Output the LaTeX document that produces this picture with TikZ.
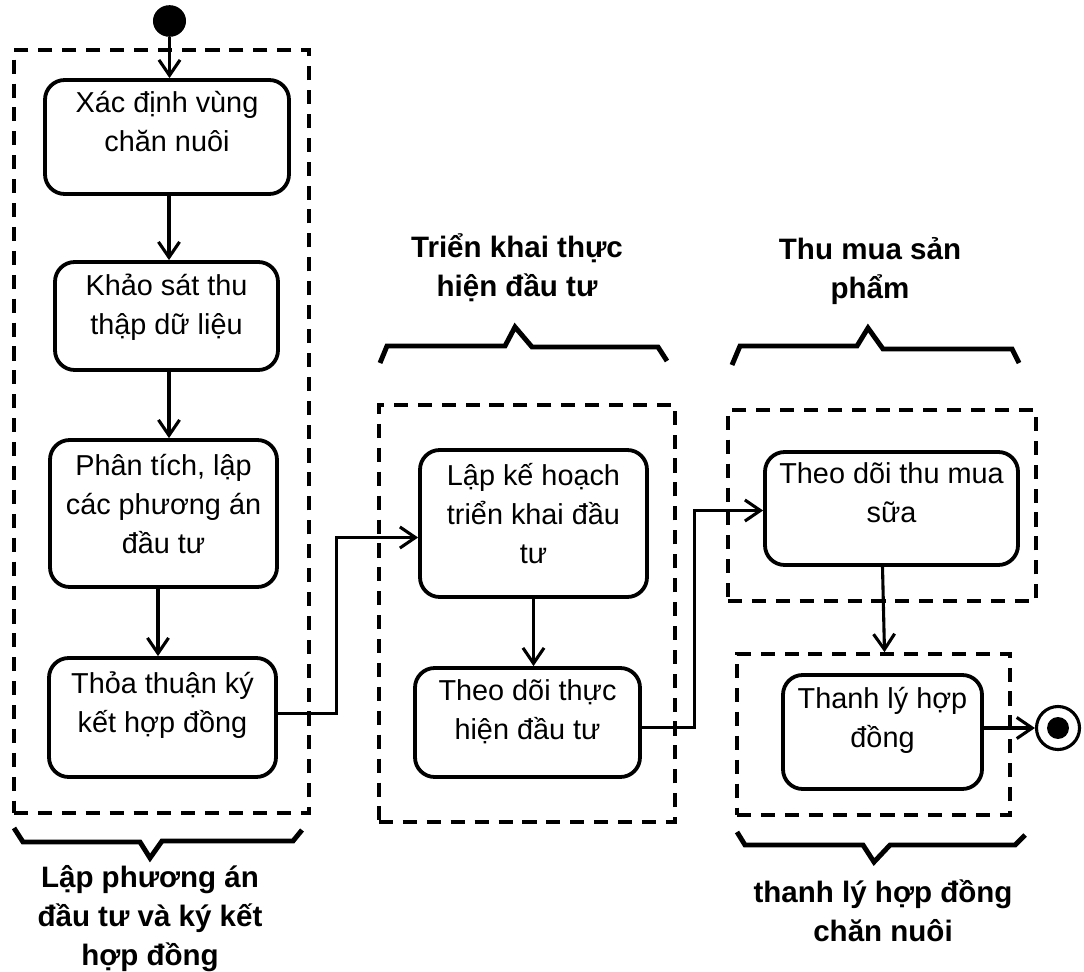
\documentclass[tikz,border=0pt]{standalone}
\usepackage{fontspec}
\setmainfont{Liberation Sans}
\usetikzlibrary{arrows.meta,fit,calc,shapes.geometric}

\begin{document}
\begin{tikzpicture}[x=0.025cm,y=-0.025cm,
  box/.style={draw, rounded corners=14pt, line width=2.7pt, inner sep=0pt},
  lane/.style={draw, dash pattern=on 10pt off 7pt, line width=2.6pt, inner sep=0pt},
  txt/.style={align=center, inner sep=0pt, anchor=north, font=\fontsize{20.5}{27.8}\selectfont},
  grp/.style={align=center, inner sep=0pt, anchor=north, font=\fontsize{21}{27.8}\selectfont\bfseries},
  link/.style={line width=2.2pt},
  flow/.style={link, -{Straight Barb[length=11pt,width=15pt]}},
  brace/.style={line width=3.5pt}
]
\useasboundingbox (0,0) rectangle (1084,972);

% swimlane groups
\node[lane, fit={(14,50) (309,813)}] (d1) {};
\node[lane, fit={(379,405) (675,822)}] (d2) {};
\node[lane, fit={(728,410) (1036,601)}] (d3) {};
\node[lane, fit={(737,654) (1010,815)}] (d4) {};

% activities
\node[box, fit={(45,80) (289,194)}] (b1) {};
\node[box, fit={(55,262) (278,370)}] (b2) {};
\node[box, fit={(50,440) (277,587)}] (b3) {};
\node[box, fit={(49,658) (276,777)}] (b4) {};
\node[box, fit={(420,450) (647,597)}] (b5) {};
\node[box, fit={(415,668) (640,777)}] (b6) {};
\node[box, fit={(765,452) (1018,565)}] (b7) {};
\node[box, fit={(783,675) (982,789)}] (b8) {};

\node[txt] (t1) at ($(b1.north)+(0,7)$) {\strut Xác định vùng\\chăn nuôi};
\node[txt] (t2) at ($(b2.north)+(0,8)$) {\strut Khảo sát thu\\thập dữ liệu};
\node[txt] (t3) at ($(b3.north)+(0,10)$) {\strut Phân tích, lập\\các phương án\\đầu tư};
\node[txt] (t4) at ($(b4.north)+(0,10)$) {\strut Thỏa thuận ký\\kết hợp đồng};
\node[txt] (t5) at ($(b5.north)+(0,10)$) {\strut Lập kế hoạch\\triển khai đầu\\tư};
\node[txt] (t6) at ($(b6.north)+(0,7)$) {\strut Theo dõi thực\\hiện đầu tư};
\node[txt] (t7) at ($(b7.north)+(0,6)$) {\strut Theo dõi thu mua\\sữa};
\node[txt] (t8) at ($(b8.north)+(0,8)$) {\strut Thanh lý hợp\\đồng};

% initial and final states
\node[ellipse, fill, inner sep=0pt, minimum width=23.5pt, minimum height=22.5pt] (start) at (169.5,21) {};
\node[circle, draw, line width=2.2pt, inner sep=0pt, minimum size=30.6pt] (fin) at (1058,728) {};
\node[circle, fill, inner sep=0pt, minimum size=15.6pt] (finDot) at (fin) {};

% guide columns for the vertical flows
\coordinate (axisA) at (169,0);
\coordinate (axisB) at (158,0);

% control flow
\draw[flow] (start) -- (start |- b1.north);
\draw[flow] (b1.south -| axisA) -- (b2.north -| axisA);
\draw[flow] (b2.south -| axisA) -- (b3.north -| axisA);
\draw[flow] (b3.south -| axisB) -- (b4.north -| axisB);
\draw[flow] ($(b4.east)+(0,-4)$) -- ++(59,0) |- ($(b5.west)+(0,14)$);
\draw[flow] (b5.south) -- (b5.south |- b6.north);
\draw[flow] ($(b6.east)+(0,5)$) -- ++(53,0) |- ($(b7.west)+(0,2)$);
\draw[flow] ($(b7.south)+(-9,0)$) -- ($(d4.north)+(11,0)$);
\draw[flow] (b8.east |- fin) -- (fin);

% group braces
\draw[brace] (14,828) -- (23,842) -- (140,842) -- (150,858) -- (162,841) -- (293,841) -- (302,830);
\draw[brace] (380,363) -- (387,346) -- (505,346) -- (515,327) -- (532,347) -- (658,347) -- (667,361);
\draw[brace] (732,365) -- (740,346) -- (857,346) -- (868,328) -- (883,349) -- (1012,349) -- (1019,363);
\draw[brace] (737,832) -- (745,845) -- (863,845) -- (874,862) -- (890,845) -- (1015,845) -- (1025,835);

% group titles
\node[grp] (g1) at (150,860) {\strut Lập phương án\\đầu tư và ký kết\\hợp đồng};
\node[grp] (g2) at (517,230) {\strut Triển khai thực\\hiện đầu tư};
\node[grp] (g3) at (870,232) {\strut Thu mua sản\\phẩm};
\node[grp] (g4) at (883,875) {\strut thanh lý hợp đồng\\chăn nuôi};
\end{tikzpicture}
\end{document}
